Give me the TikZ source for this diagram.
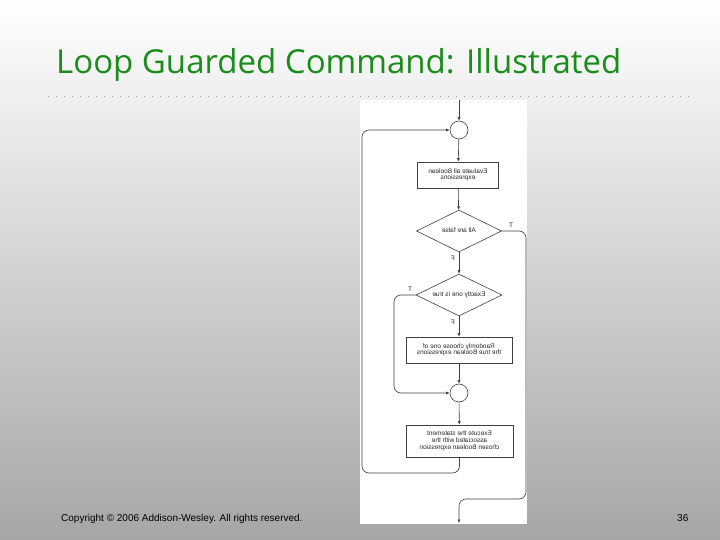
\documentclass[tikz,border=0pt]{standalone}
\usepackage{fontspec}
\setmainfont{Liberation Sans}
\newfontfamily\titlefont{Open Sans}
\usepackage{graphicx}
\usetikzlibrary{arrows.meta,shapes.geometric}
\definecolor{titlegreen}{RGB}{26,140,26}
\definecolor{slidegray}{RGB}{166,166,166}
% mirrored text, as the flowchart is printed flipped
\newcommand{\mirr}[1]{\reflectbox{\renewcommand{\arraystretch}{0.8}\begin{tabular}{@{}c@{}}#1\end{tabular}}}

\begin{document}
\begin{tikzpicture}[x=1pt,y=-1pt,
  fbox/.style={rectangle,draw=black!75,fill=white,line width=0.6pt,inner sep=0pt,
    minimum height=26pt,font=\fontsize{6.5}{8.3}\selectfont,text=black!85},
  fdia/.style={diamond,draw=black!75,fill=white,line width=0.6pt,inner sep=0pt,aspect=2,
    minimum width=85pt,minimum height=42pt,font=\fontsize{6.5}{8.3}\selectfont,text=black!85},
  junc/.style={circle,draw=black!75,fill=white,line width=0.6pt,minimum size=18pt,inner sep=0pt},
  a/.style={-{Latex[length=3.5pt,width=3pt]},draw=black!75,line width=0.6pt},
  rnd/.style={rounded corners=7pt},
  lab/.style={font=\fontsize{6.5}{8}\selectfont,text=black!85,inner sep=0pt},
  foot/.style={font=\fontsize{10}{11}\selectfont,inner sep=0pt,anchor=base west}]

\useasboundingbox (0,0) rectangle (720,540);
\shade[top color=white,bottom color=slidegray] (0,0) rectangle (720,540);

% title and rule
\node[anchor=base west,inner sep=0pt,font=\titlefont\fontsize{33}{37}\selectfont,text=titlegreen]
  (title) at (56,74) {Loop Guarded Command: Illustrated};
\draw[black!40,line width=0.9pt,dash pattern=on 0.9pt off 7.1pt] (48,96) -- (690,96);

% flowchart image area
\fill[white] (360,100) rectangle (527,524);

\coordinate (entry) at (459,100);
\node[junc] (c1) at (459,130) {};
\node[fbox,minimum width=81pt] (r1) at (458,175) {\mirr{Evaluate all Boolean\\expressions}};
\node[fdia] (d1) at (459,231) {\mirr{All are false}};
\node[fdia,minimum width=86pt] (d2) at (459,295) {\mirr{Exactly one is true}};
\node[fbox,minimum width=106pt] (r2) at (459,350) {\mirr{Randomly choose one of\\the true Boolean expressions}};
\node[junc] (c2) at (459,393) {};
\node[fbox,minimum width=107pt,minimum height=32pt] (r3) at (459.5,441) {\mirr{Execute the statement\\associated with the\\chosen Boolean expression}};
\coordinate (exit) at (459,523);

% corners of the side paths
\coordinate (lpL) at (362,473);
\coordinate (lpT) at (394,393);
\coordinate (lpR) at (526,499);

% straight run
\draw[a] (entry) -- (c1);
\draw[a] (c1) -- (r1);
\draw[a] (r1) -- (d1);
\draw[a] (d1) -- (d2);
\draw[a] (d2) -- (r2);
\draw[a] (r2) -- (c2);
\draw[a] (c2) -- (r3);

% side paths
\draw[a,rnd] (r3.south) |- (lpL) |- (c1.west);
\draw[a,rnd] (d2.west) -| (lpT) -- (c2.west);
\draw[a,rnd] (d1.east) -| (lpR) -| (exit);

\node[lab] (t1) at (511,225) {T};
\node[lab] (f1) at (453,258) {\reflectbox{F}};
\node[lab] (t2) at (410,289) {T};
\node[lab] (f2) at (453,322) {\reflectbox{F}};

% footer
\node[foot] (copy) at (61,521.5) {Copyright \textcopyright{} 2006 Addison-Wesley. All rights reserved.};
\node[foot] (page) at (677,521.5) {36};
\end{tikzpicture}
\end{document}
